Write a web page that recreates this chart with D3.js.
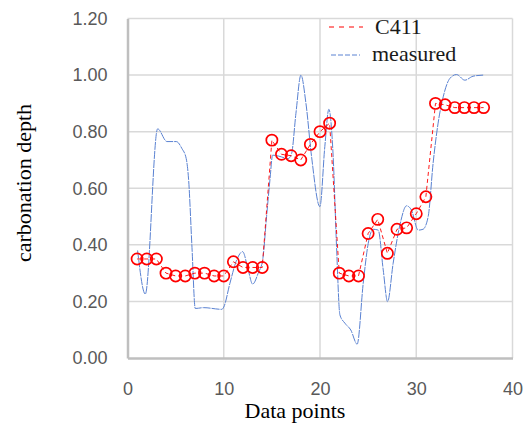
<!DOCTYPE html>
<html>
<head>
<meta charset="utf-8">
<script src="https://cdn.jsdelivr.net/npm/d3@7"></script>
<style>
    body { margin: 0; background: #fff; }
    svg { display: block; }
</style>
</head>
<body>
<div id="chart"></div>
<script>
// C411 predictions, one per data point
const c411X = d3.range(1, 38);
const c411Y = [0.35, 0.35, 0.35, 0.30, 0.29, 0.29, 0.30, 0.30, 0.29, 0.29,
    0.34, 0.32, 0.32, 0.32, 0.77, 0.72, 0.715, 0.70, 0.755, 0.80,
    0.83, 0.30, 0.29, 0.29, 0.44, 0.49, 0.37, 0.455, 0.46, 0.51,
    0.57, 0.90, 0.895, 0.885, 0.885, 0.885, 0.885];

// measured curve
const measuredX = [1.05, 1.85, 3.13, 4.1, 5.07, 5.66, 6.1, 6.35, 6.7, 7.04,
    7.9, 9.8, 10.0, 10.64, 11.34, 11.96, 12.55, 13.0, 13.58, 14.04,
    14.45, 14.8, 15.08, 15.66, 16.7, 17.05, 17.5, 18.02, 18.54, 19.13,
    19.99, 20.5, 20.92, 21.37, 21.72, 22.07, 22.59, 23.2, 23.86, 24.49,
    25.01, 25.53, 26.05, 26.57, 27.02, 27.6, 28.3, 28.99, 29.5, 30.2,
    30.7, 31.24, 31.75, 32.27, 32.8, 33.49, 34.18, 35.05, 35.9, 36.95];
const measuredY = [0.38, 0.226, 0.81, 0.765, 0.765, 0.74, 0.705, 0.63, 0.39, 0.175,
    0.178, 0.172, 0.18, 0.264, 0.346, 0.376, 0.31, 0.261, 0.30, 0.346,
    0.50, 0.63, 0.717, 0.714, 0.705, 0.723, 0.865, 1.0, 0.90, 0.71,
    0.535, 0.747, 0.879, 0.711, 0.393, 0.152, 0.123, 0.099, 0.049, 0.264,
    0.405, 0.455, 0.452, 0.311, 0.199, 0.335, 0.47, 0.538, 0.523, 0.452,
    0.455, 0.50, 0.688, 0.83, 0.923, 0.988, 1.002, 0.982, 0.996, 1.0];

const xTicks = [0, 10, 20, 30, 40];
const yTicks = [0, 0.2, 0.4, 0.6, 0.8, 1.0, 1.2];

const width = 531, height = 426;
const margin = { top: 18.5, right: 18.5, bottom: 68, left: 127.5 };

const svg = d3.select("#chart").append("svg")
    .attr("width", width)
    .attr("height", height);

const x = d3.scaleLinear().domain([0, 40]).range([margin.left, width - margin.right]);
const y = d3.scaleLinear().domain([0, 1.2]).range([height - margin.bottom, margin.top]);

// grid
svg.append("g")
    .selectAll("line.v")
    .data(xTicks.slice(1))
    .join("line")
    .attr("x1", d => x(d)).attr("x2", d => x(d))
    .attr("y1", y(0)).attr("y2", y(1.2))
    .attr("stroke", "#d9d9d9").attr("stroke-width", 1.5);

svg.append("g")
    .selectAll("line.h")
    .data(yTicks.slice(1))
    .join("line")
    .attr("x1", x(0)).attr("x2", x(40))
    .attr("y1", d => y(d)).attr("y2", d => y(d))
    .attr("stroke", "#d9d9d9").attr("stroke-width", 1.5);

// axes
const xAxis = svg.append("g")
    .attr("transform", `translate(0,${y(0)})`)
    .call(d3.axisBottom(x).tickValues(xTicks).tickSize(0).tickPadding(24));
const yAxis = svg.append("g")
    .attr("transform", `translate(${x(0)},0)`)
    .call(d3.axisLeft(y).tickValues(yTicks).tickFormat(d3.format(".2f")).tickSize(0).tickPadding(20));

[xAxis, yAxis].forEach(g => {
    g.select(".domain").attr("stroke", "#bfbfbf").attr("stroke-width", 2.5);
    g.selectAll("text")
        .attr("fill", "#595959")
        .style("font-family", "'Liberation Sans', Arial, sans-serif")
        .style("font-size", "18px");
});

// measured line
const measured = measuredX.map((d, i) => ({ x: d, y: measuredY[i] }));
svg.append("path")
    .datum(measured)
    .attr("fill", "none")
    .attr("stroke", "#5a82d2")
    .attr("stroke-width", 1)
    .attr("stroke-dasharray", "8,1")
    .attr("d", d3.line().x(d => x(d.x)).y(d => y(d.y)).curve(d3.curveMonotoneX));

// C411 line + circles
const c411 = c411X.map((d, i) => ({ x: d, y: c411Y[i] }));
svg.append("path")
    .datum(c411)
    .attr("fill", "none")
    .attr("stroke", "#ff0000")
    .attr("stroke-width", 0.9)
    .attr("stroke-dasharray", "4,3")
    .attr("d", d3.line().x(d => x(d.x)).y(d => y(d.y)));

svg.append("g")
    .selectAll("circle")
    .data(c411)
    .join("circle")
    .attr("cx", d => x(d.x))
    .attr("cy", d => y(d.y))
    .attr("r", 5.6)
    .attr("fill", "none")
    .attr("stroke", "#ff0000")
    .attr("stroke-width", 1.7);

// legend
const legend = svg.append("g").style("font-family", "'Liberation Serif', 'Times New Roman', serif").style("font-size", "22px");
legend.append("line")
    .attr("x1", 329).attr("x2", 363).attr("y1", 27).attr("y2", 27)
    .attr("stroke", "#ff0000").attr("stroke-width", 1).attr("stroke-dasharray", "5,5");
legend.append("text").attr("x", 375).attr("y", 34).attr("fill", "#1a1a1a").text("C411");
legend.append("line")
    .attr("x1", 331).attr("x2", 360).attr("y1", 55).attr("y2", 55)
    .attr("stroke", "#5a82d2").attr("stroke-width", 1).attr("stroke-dasharray", "5,2");
legend.append("text").attr("x", 372).attr("y", 61).attr("fill", "#1a1a1a").text("measured");

// axis titles
svg.append("text")
    .attr("x", 295)
    .attr("y", 418)
    .attr("text-anchor", "middle")
    .style("font-family", "'Liberation Serif', 'Times New Roman', serif")
    .style("font-size", "22px")
    .text("Data points");

svg.append("text")
    .attr("transform", `translate(31,183) rotate(-90)`)
    .attr("text-anchor", "middle")
    .style("font-family", "'Liberation Serif', 'Times New Roman', serif")
    .style("font-size", "22px")
    .text("carbonation depth");
</script>
</body>
</html>
